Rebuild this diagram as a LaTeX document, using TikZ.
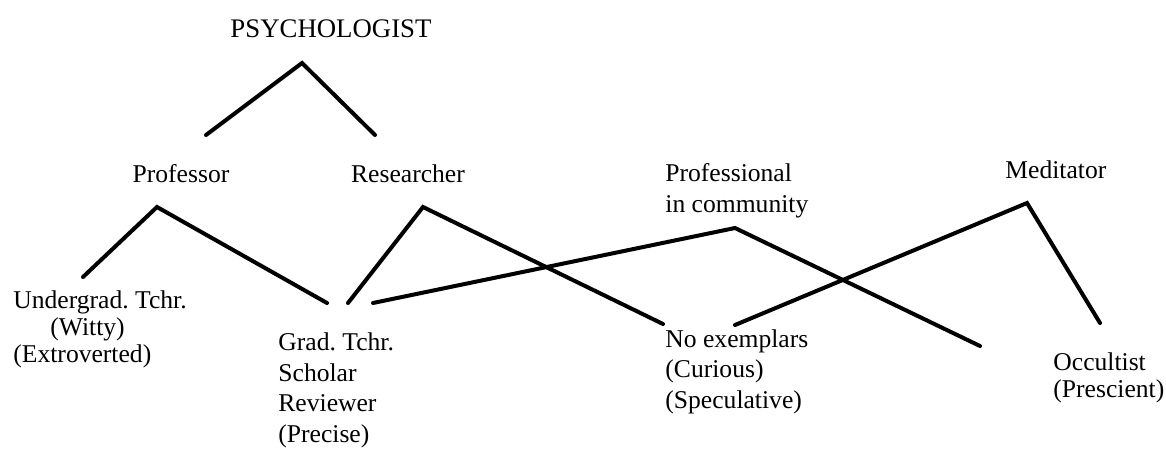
\documentclass[tikz,border=0pt]{standalone}
\usepackage{fontspec}
\setmainfont{Liberation Serif}
\frenchspacing
\begin{document}
\begin{tikzpicture}[x=0.5pt,y=-0.5pt,line cap=round,line join=miter]
    \tikzset{role/.style={inner sep=0pt,font=\fontsize{12.8}{15.25}\selectfont},
             tight/.style={font=\fontsize{12.8}{13.5}\selectfont},
             link/.style={line width=2pt}}
    \useasboundingbox (0,0) rectangle (1166,449);

    % top level
    \node[role,anchor=base,font=\fontsize{13.4}{15}\selectfont] (psych) at (331,38) {PSYCHOLOGIST};

    % second row
    \node[role,anchor=base] (prof) at (181,182) {Professor};
    \node[role,anchor=base] (res) at (408,182) {Researcher};
    \node[role,anchor=base west,align=left] (comm) at (665,212) {Professional\\in community};
    \node[role,anchor=base west] (med) at (1005,178) {Meditator};

    % bottom row (anchor = baseline of last line)
    \node[role,tight,anchor=base west,align=left] (under) at (13,362) {Undergrad. Tchr.\\\hspace*{18.5pt}(Witty)\\(Extroverted)};
    \node[role,anchor=base west,align=left] (grad) at (278,442) {Grad. Tchr.\\Scholar\\Reviewer\\(Precise)};
    \node[role,anchor=base west,align=left] (noex) at (665,408) {No exemplars\\(Curious)\\(Speculative)};
    \node[role,tight,anchor=base west,align=left] (occ) at (1053,397) {Occultist\\(Prescient)};

    % line ends
    \coordinate (psychTop) at (302,63);
    \coordinate (psychL) at (206,135);
    \coordinate (psychR) at (375,135);
    \coordinate (profTop) at (157,207);
    \coordinate (profL) at (83,277);
    \coordinate (profR) at (327,303);
    \coordinate (resTop) at (423,207);
    \coordinate (resL) at (348,303);
    \coordinate (resR) at (663,324);
    \coordinate (commL) at (373,303);
    \coordinate (commTop) at (735,228);
    \coordinate (commR) at (980,346);
    \coordinate (medL) at (735,325);
    \coordinate (medTop) at (1027,203);
    \coordinate (medR) at (1100,323);

    \draw[link] (psychL) -- (psychTop) -- (psychR);
    \draw[link] (profL) -- (profTop) -- (profR);
    \draw[link] (resL) -- (resTop) -- (resR);
    \draw[link] (commL) -- (commTop) -- (commR);
    \draw[link] (medL) -- (medTop) -- (medR);
\end{tikzpicture}
\end{document}
